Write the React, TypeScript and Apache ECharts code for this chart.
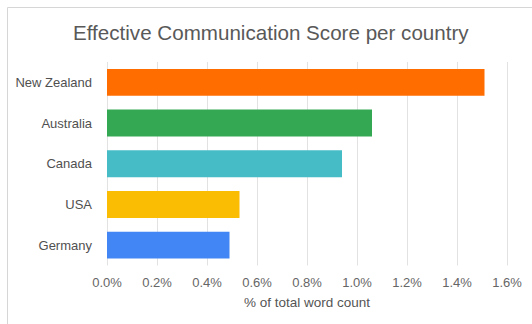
import React, { useEffect, useRef } from "react";
import * as echarts from "echarts";

const countries = ["New Zealand", "Australia", "Canada", "USA", "Germany"];
const scores = [1.51, 1.06, 0.94, 0.53, 0.49];
const barColors = ["#ff6d01", "#34a853", "#46bdc6", "#fbbc04", "#4285f4"];
const titleText = "Effective Communication Score per country";
const axisTitle = "% of total word count";

export default function App() {
  const ref = useRef<HTMLDivElement>(null);
  useEffect(() => {
    if (!ref.current) return;
    const chart = echarts.init(ref.current, null, { renderer: "svg" });
    chart.setOption({
      animation: false,
      backgroundColor: "#ffffff",
      textStyle: { fontFamily: "Liberation Sans, Arial, sans-serif" },
      title: {
        text: titleText,
        left: 73,
        top: 22,
        padding: 0,
        textStyle: { fontSize: 20.6, fontWeight: "normal", color: "#595959", fontFamily: "Liberation Sans, Arial, sans-serif" },
      },
      graphic: [
        {
          type: "rect",
          shape: { x: 7.5, y: 7.5, width: 600, height: 400 },
          style: { fill: "none", stroke: "#d6d6d6", lineWidth: 1 },
          silent: true,
        },
      ],
      grid: { left: 107, right: 25, top: 62, bottom: 58.5, containLabel: false },
      xAxis: {
        type: "value",
        min: 0,
        max: 1.6,
        interval: 0.2,
        name: axisTitle,
        nameLocation: "middle",
        nameGap: 30,
        nameTextStyle: { fontSize: 13.5, color: "#555555" },
        axisLine: { show: false },
        axisTick: { show: false },
        axisLabel: {
          margin: 10,
          fontSize: 13,
          color: "#666666",
          formatter: (v: number) => v.toFixed(1) + "%",
        },
        splitLine: { show: true, lineStyle: { color: "#e2e2e2", width: 1 } },
      },
      yAxis: {
        type: "category",
        data: countries,
        inverse: true,
        axisLine: { show: false },
        axisTick: { show: false },
        axisLabel: { margin: 15, fontSize: 13, color: "#505050" },
      },
      series: [
        {
          type: "bar",
          data: scores.map((v, i) => ({ value: v, itemStyle: { color: barColors[i] } })),
          barWidth: "66%",
        },
      ],
    });
    return () => chart.dispose();
  }, []);
  return (
    <div style={{ position: "fixed", left: 0, top: 0, width: 532, height: 324, background: "#fff" }}>
      <div ref={ref} style={{ width: 532, height: 324 }} />
    </div>
  );
}
